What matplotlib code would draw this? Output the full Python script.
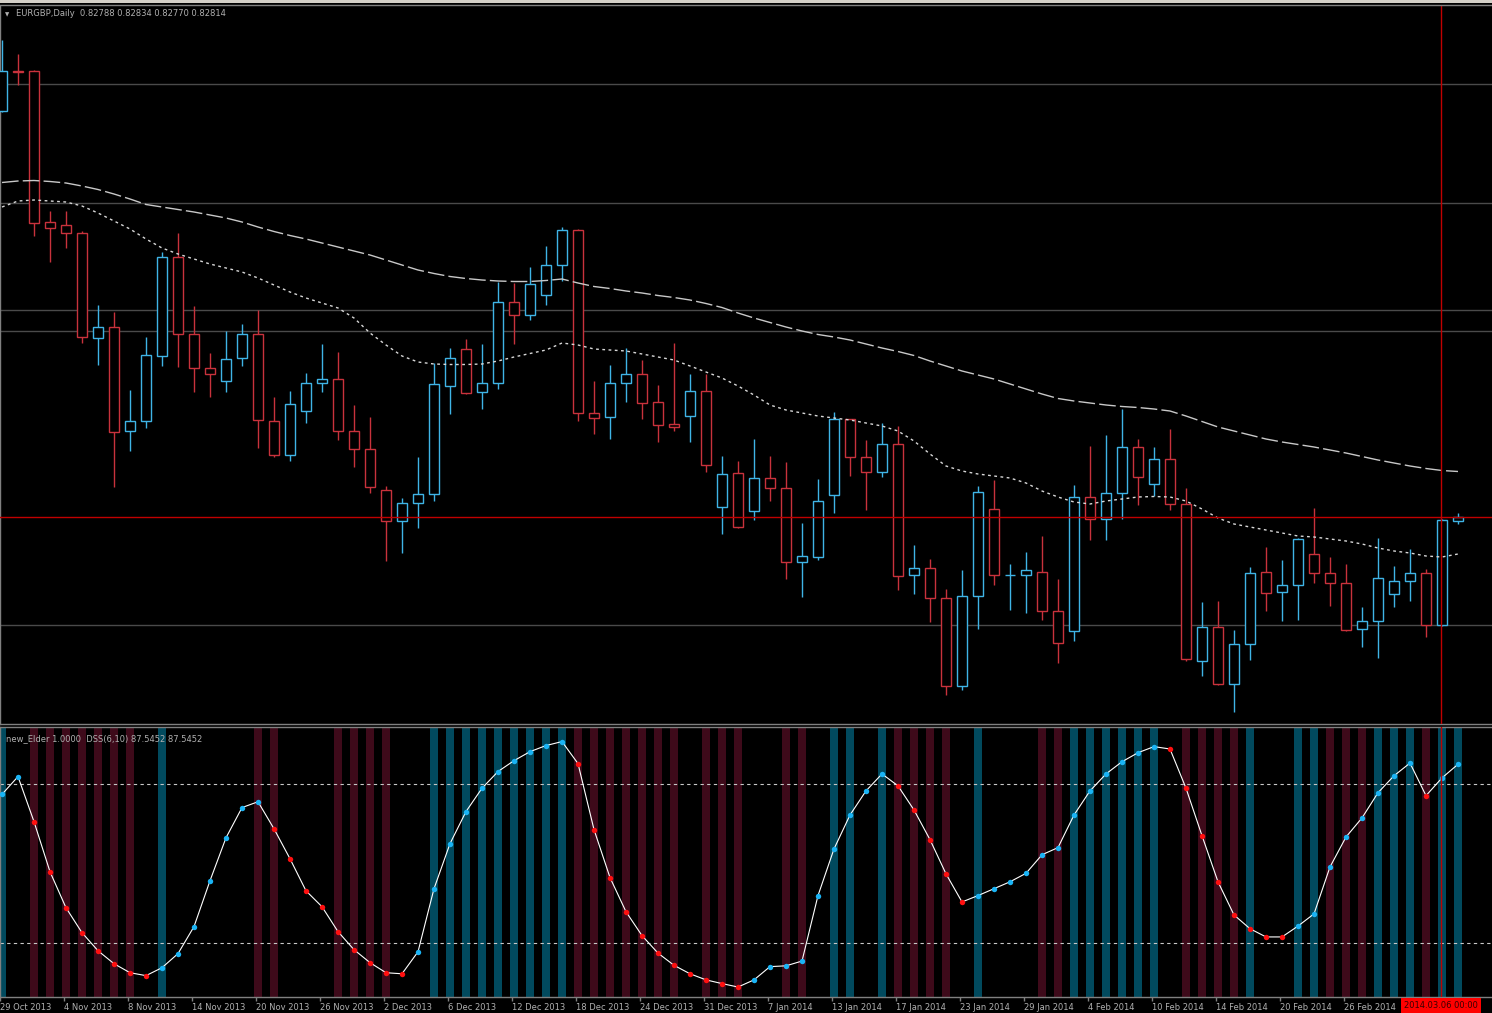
import numpy as np
import matplotlib
matplotlib.use("Agg")
import matplotlib.pyplot as plt
from matplotlib.patches import Rectangle
from matplotlib.lines import Line2D

# EURGBP daily candles, 29 Oct 2013 .. 7 Mar 2014
opens = [
    0.85249, 0.85487, 0.85487, 0.84581, 0.84563, 0.84515, 0.83888, 0.83954, 0.83329, 0.83389,
    0.83777, 0.84371, 0.83909, 0.83705, 0.83627, 0.83765, 0.83909, 0.83389, 0.83186, 0.83450,
    0.83613, 0.83639, 0.83329, 0.83219, 0.82973, 0.82787, 0.82895, 0.82951, 0.83599, 0.83819,
    0.83563, 0.83618, 0.84101, 0.84026, 0.84143, 0.84326, 0.84533, 0.83435, 0.83411, 0.83613,
    0.83669, 0.83501, 0.83369, 0.83420, 0.83567, 0.82871, 0.83075, 0.82849, 0.83043, 0.82987,
    0.82539, 0.82574, 0.82943, 0.83399, 0.83171, 0.83084, 0.83247, 0.82464, 0.82503, 0.82325,
    0.81795, 0.82340, 0.82861, 0.82461, 0.82464, 0.82483, 0.82249, 0.82125, 0.82932, 0.82800,
    0.82957, 0.83233, 0.83007, 0.83159, 0.82889, 0.81947, 0.82151, 0.81809, 0.82049, 0.82483,
    0.82359, 0.82401, 0.82589, 0.82475, 0.82415, 0.82139, 0.82186, 0.82351, 0.82428, 0.82478,
    0.82161, 0.82788]
highs = [
    0.85673, 0.85589, 0.85493, 0.84647, 0.84647, 0.84527, 0.84083, 0.84041, 0.83573, 0.83891,
    0.84403, 0.84515, 0.84077, 0.83797, 0.83929, 0.83969, 0.84056, 0.83531, 0.83567, 0.83675,
    0.83849, 0.83801, 0.83483, 0.83411, 0.82998, 0.82925, 0.83171, 0.83737, 0.83825, 0.83879,
    0.83849, 0.84224, 0.84215, 0.84311, 0.84439, 0.84551, 0.84541, 0.83627, 0.83723, 0.83825,
    0.83753, 0.83603, 0.83858, 0.83669, 0.83669, 0.83177, 0.83150, 0.83282, 0.83180, 0.83141,
    0.82778, 0.83039, 0.83441, 0.83401, 0.83273, 0.83375, 0.83359, 0.82643, 0.82560, 0.82379,
    0.82493, 0.82998, 0.83034, 0.82530, 0.82601, 0.82698, 0.82442, 0.83001, 0.83235, 0.83303,
    0.83461, 0.83282, 0.83233, 0.83337, 0.82985, 0.82304, 0.82309, 0.82131, 0.82511, 0.82629,
    0.82553, 0.82685, 0.82863, 0.82574, 0.82530, 0.82271, 0.82685, 0.82517, 0.82621, 0.82497,
    0.82799, 0.82834]
lows = [
    0.85240, 0.85403, 0.84500, 0.84341, 0.84425, 0.83855, 0.83723, 0.82993, 0.83207, 0.83345,
    0.83717, 0.83711, 0.83563, 0.83533, 0.83563, 0.83717, 0.83227, 0.83171, 0.83147, 0.83375,
    0.83563, 0.83273, 0.83111, 0.82957, 0.82547, 0.82595, 0.82745, 0.82910, 0.83429, 0.83552,
    0.83461, 0.83579, 0.83849, 0.83993, 0.84083, 0.84227, 0.83389, 0.83309, 0.83279, 0.83503,
    0.83401, 0.83263, 0.83329, 0.83263, 0.83081, 0.82709, 0.82745, 0.82793, 0.82910, 0.82442,
    0.82331, 0.82553, 0.82835, 0.83057, 0.82855, 0.83053, 0.82373, 0.82351, 0.82181, 0.81745,
    0.81775, 0.82139, 0.82401, 0.82255, 0.82235, 0.82194, 0.81938, 0.82065, 0.82671, 0.82671,
    0.82800, 0.82883, 0.82938, 0.82855, 0.81947, 0.81858, 0.81806, 0.81643, 0.81954, 0.82249,
    0.82189, 0.82194, 0.82415, 0.82277, 0.82125, 0.82029, 0.81965, 0.82269, 0.82309, 0.82089,
    0.82157, 0.82770]
closes = [
    0.85487, 0.85484, 0.84577, 0.84545, 0.84515, 0.83894, 0.83951, 0.83323, 0.83389, 0.83783,
    0.84371, 0.83909, 0.83705, 0.83669, 0.83761, 0.83909, 0.83393, 0.83186, 0.83489, 0.83615,
    0.83639, 0.83329, 0.83219, 0.82993, 0.82787, 0.82895, 0.82951, 0.83609, 0.83765, 0.83557,
    0.83613, 0.84101, 0.84026, 0.84209, 0.84326, 0.84533, 0.83435, 0.83405, 0.83613, 0.83669,
    0.83495, 0.83365, 0.83354, 0.83567, 0.83123, 0.83069, 0.82751, 0.83043, 0.82987, 0.82539,
    0.82574, 0.82905, 0.83399, 0.83171, 0.83084, 0.83247, 0.82457, 0.82503, 0.82325, 0.81795,
    0.82340, 0.82961, 0.82464, 0.82464, 0.82493, 0.82249, 0.82056, 0.82932, 0.82800, 0.82957,
    0.83233, 0.83053, 0.83159, 0.82889, 0.81960, 0.82151, 0.81809, 0.82049, 0.82478, 0.82354,
    0.82401, 0.82681, 0.82475, 0.82415, 0.82131, 0.82186, 0.82442, 0.82428, 0.82478, 0.82161,
    0.82793, 0.82814]

# the two moving averages (upper = slow, lower = fast)
ma_slow = [
    0.84818, 0.84827, 0.84830, 0.84824, 0.84815, 0.84797, 0.84776, 0.84749, 0.84719, 0.84686,
    0.84671, 0.84656, 0.84641, 0.84623, 0.84605, 0.84581, 0.84551, 0.84524, 0.84500, 0.84479,
    0.84455, 0.84431, 0.84407, 0.84383, 0.84353, 0.84323, 0.84293, 0.84272, 0.84254, 0.84242,
    0.84233, 0.84227, 0.84224, 0.84224, 0.84230, 0.84239, 0.84215, 0.84194, 0.84182, 0.84167,
    0.84155, 0.84140, 0.84128, 0.84113, 0.84092, 0.84068, 0.84035, 0.84005, 0.83978, 0.83951,
    0.83927, 0.83906, 0.83891, 0.83873, 0.83849, 0.83825, 0.83804, 0.83780, 0.83747, 0.83717,
    0.83687, 0.83663, 0.83639, 0.83609, 0.83579, 0.83549, 0.83522, 0.83507, 0.83495, 0.83483,
    0.83474, 0.83468, 0.83459, 0.83447, 0.83417, 0.83384, 0.83351, 0.83327, 0.83303, 0.83279,
    0.83261, 0.83246, 0.83231, 0.83213, 0.83195, 0.83174, 0.83153, 0.83135, 0.83117, 0.83102,
    0.83090, 0.83084]
ma_fast = [
    0.84671, 0.84707, 0.84713, 0.84707, 0.84701, 0.84677, 0.84635, 0.84587, 0.84539, 0.84479,
    0.84425, 0.84389, 0.84359, 0.84329, 0.84305, 0.84281, 0.84245, 0.84203, 0.84161, 0.84125,
    0.84095, 0.84065, 0.84005, 0.83915, 0.83843, 0.83777, 0.83741, 0.83729, 0.83726, 0.83726,
    0.83729, 0.83747, 0.83771, 0.83792, 0.83813, 0.83855, 0.83843, 0.83819, 0.83813, 0.83807,
    0.83789, 0.83771, 0.83753, 0.83717, 0.83681, 0.83645, 0.83597, 0.83543, 0.83483, 0.83453,
    0.83435, 0.83417, 0.83405, 0.83393, 0.83375, 0.83357, 0.83327, 0.83267, 0.83189, 0.83117,
    0.83087, 0.83069, 0.83057, 0.83045, 0.83015, 0.82967, 0.82931, 0.82901, 0.82889, 0.82907,
    0.82919, 0.82931, 0.82934, 0.82931, 0.82907, 0.82859, 0.82805, 0.82769, 0.82751, 0.82733,
    0.82715, 0.82697, 0.82691, 0.82679, 0.82667, 0.82649, 0.82625, 0.82607, 0.82595, 0.82577,
    0.82571, 0.82589]

# horizontal line objects on the price chart
hlines = [0.85412, 0.84695, 0.84053, 0.83930, 0.82166]
cross_price = 0.82814
cross_bar = 89.94

# DSS(6,10) oscillator and Elder impulse colouring (B = blue, R = red, . = none)
dss = [
    76.2, 82.9, 65.9, 47.0, 33.4, 24.0, 17.2, 12.3, 8.9, 7.8,
    10.8, 16.1, 26.3, 43.6, 59.8, 71.2, 73.4, 63.2, 51.9, 39.8,
    33.8, 24.4, 17.6, 12.7, 8.9, 8.5, 16.8, 40.6, 57.6, 69.7,
    78.5, 84.8, 88.9, 92.3, 94.6, 96.1, 87.8, 62.9, 44.8, 31.9,
    22.9, 16.3, 11.7, 8.5, 6.2, 4.8, 3.5, 6.2, 11.2, 11.5,
    13.3, 38.0, 55.6, 68.4, 77.5, 83.9, 79.4, 70.3, 59.1, 46.2,
    35.6, 38.0, 40.6, 43.2, 46.4, 53.4, 56.1, 68.4, 77.5, 83.9,
    88.5, 91.9, 94.2, 93.3, 78.5, 60.6, 43.2, 30.7, 25.5, 22.4,
    22.4, 26.5, 31.1, 48.8, 60.1, 67.3, 76.8, 83.2, 88.0, 75.7,
    82.4, 87.5452]
impulse = ("B.RRRRRRR." "B.....RR.." ".RRRR..BBB" "BBBBBBRRRR" "RRR.RRR..R"
           "R.BB.BRRRR" ".B...RRBBB" "BBB.RRRRB." ".BBRRRBBBR" "BB")
dss_levels = [80, 20]

date_bars = [0, 4, 8, 12, 16, 20, 24, 28, 32, 36, 40, 44, 48, 52, 56, 60, 64, 68, 72, 76, 80, 84]
date_labels = ["29 Oct 2013", "4 Nov 2013", "8 Nov 2013", "14 Nov 2013", "20 Nov 2013",
               "26 Nov 2013", "2 Dec 2013", "6 Dec 2013", "12 Dec 2013", "18 Dec 2013",
               "24 Dec 2013", "31 Dec 2013", "7 Jan 2014", "13 Jan 2014", "17 Jan 2014",
               "23 Jan 2014", "29 Jan 2014", "4 Feb 2014", "10 Feb 2014", "14 Feb 2014",
               "20 Feb 2014", "26 Feb 2014"]
cross_label = "2014.03.06 00:00"

BLUE = "#3fb4e6"
RED = "#c8323c"
TEAL = "#014a5e"
MAROON = "#3e0a1a"
DOT_BLUE = "#1ab4f5"
DOT_RED = "#ff1010"
GRID = "#4a4a4a"
FRAME = "#808080"
TXT = "#b0b0b0"
CROSS = "#c00000"

W, H = 1492, 1013


def box(top, bottom, left=0, right=W):
    return [left / W, 1 - bottom / H, (right - left) / W, (bottom - top) / H]


fig = plt.figure(figsize=(W / 100, H / 100), dpi=100, facecolor="black")
ax = fig.add_axes(box(6, 724), facecolor="black")
ax2 = fig.add_axes(box(727, 997), facecolor="black", sharex=ax)

x = np.arange(len(closes))
o, h, l, c = map(np.array, (opens, highs, lows, closes))
cols = np.where(c >= o, BLUE, RED)

# price panel
for lv in hlines:
    ax.axhline(lv, color=GRID, lw=1, zorder=1)
ax.vlines(x, l, h, colors=cols, lw=1.0, zorder=2)
ax.bar(x, np.abs(c - o), bottom=np.minimum(o, c), width=0.62,
       facecolor="black", edgecolor=cols, lw=1.0, zorder=3)
ax.plot(x, ma_slow, color="#c8c8c8", lw=1.0, dashes=(12, 3), zorder=4)
ax.plot(x, ma_fast, color="#d8d8d8", lw=1.0, dashes=(2, 2.5), zorder=4)
ax.axhline(cross_price, color=CROSS, lw=1, zorder=5)
ax.axvline(cross_bar, color=CROSS, lw=1, zorder=5)
ax.set_xlim(-0.125, 93.125)
ax.set_ylim(0.81569, 0.85877)

# oscillator panel
ymin, ymax = -0.26, 101.6
for code, colr in (("B", TEAL), ("R", MAROON)):
    idx = [i for i, ch in enumerate(impulse) if ch == code]
    ax2.bar(idx, ymax - ymin, bottom=ymin, width=0.56, color=colr, lw=0, zorder=1)
for lv in dss_levels:
    ax2.axhline(lv, color="#c8c8c8", lw=0.8, dashes=(3, 3), zorder=2)
ax2.plot(x, dss, color="white", lw=0.8, zorder=3)
d = np.array(dss)
rising = np.concatenate([[True], d[1:] > d[:-1]])
ax2.plot(x[rising], d[rising], "o", ms=3.9, color=DOT_BLUE, mew=0, zorder=4)
ax2.plot(x[~rising], d[~rising], "o", ms=3.9, color=DOT_RED, mew=0, zorder=4)
ax2.axvline(cross_bar, color=CROSS, lw=1, zorder=5)
ax2.set_ylim(ymin, ymax)

ax2.set_xticks(np.array(date_bars) - 0.1)
ax2.set_xticklabels(date_labels, ha="left")
ax2.tick_params(axis="x", colors=FRAME, labelcolor=TXT, length=3, width=1,
                pad=1.5, labelsize=6)
ax2.tick_params(axis="y", left=False, labelleft=False)
ax.tick_params(axis="both", which="both", bottom=False, labelbottom=False,
               left=False, labelleft=False)

for a in (ax, ax2):
    for side in ("top", "right", "bottom", "left"):
        a.spines[side].set_color(FRAME)
        a.spines[side].set_linewidth(1)
    a.spines["right"].set_visible(False)
ax.spines["top"].set_visible(False)

ax2.text(cross_bar, -0.033, cross_label, transform=ax2.get_xaxis_transform(),
         ha="center", va="center", fontsize=6, color="#3a0000", zorder=10,
         bbox=dict(boxstyle="square,pad=0.35", facecolor="#ff0000", edgecolor="none"))

# window frame on top
fig.add_artist(Rectangle((0, 1 - 3 / H), 1, 3 / H, transform=fig.transFigure,
                         facecolor="#d4d0c8", edgecolor="none"))
fig.add_artist(Line2D([0, 1], [1 - 5 / H] * 2, transform=fig.transFigure,
                      color=FRAME, lw=1))

fig.text(5 / W, 1 - 14.5 / H, "\u25bc", fontsize=4, color=TXT, va="center")
fig.text(16 / W, 1 - 14 / H,
         "EURGBP,Daily  %.5f %.5f %.5f %.5f" % (opens[-1], highs[-1], lows[-1], closes[-1]),
         fontsize=6, color=TXT, va="center")
fig.text(6 / W, 1 - 739 / H,
         "new_Elder 1.0000  DSS(6,10) %.4f %.4f" % (dss[-1], dss[-1]),
         fontsize=6, color=TXT, va="center")

fig.savefig("out.png", dpi=100, facecolor="black")
